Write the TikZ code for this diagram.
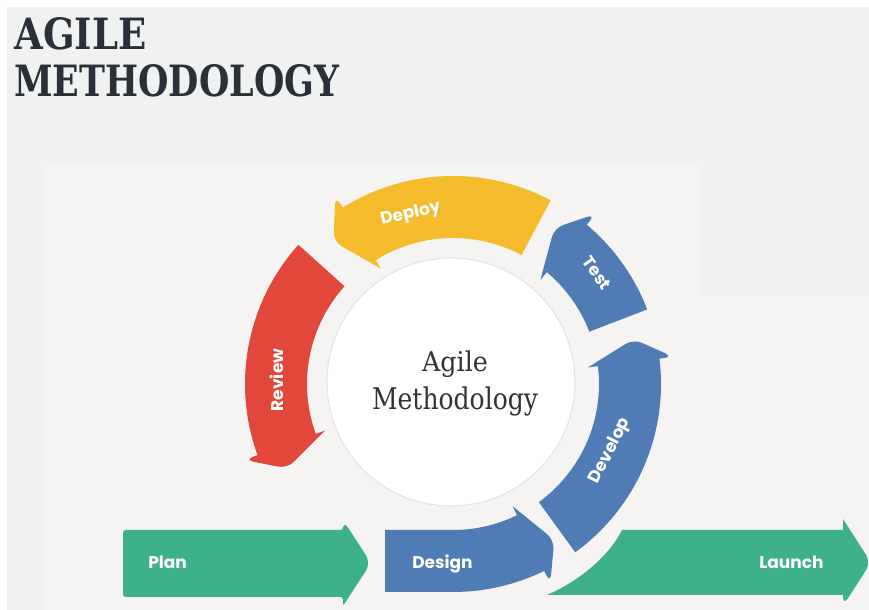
\documentclass[tikz,border=0pt]{standalone}
\usepackage{fontspec}
\setsansfont{Poppins}
\newfontfamily\slabfont{DejaVu Serif}
\usetikzlibrary{calc}
\definecolor{bggray}{HTML}{F0F1F1}
\definecolor{panelc}{HTML}{F5F4F2}
\definecolor{yellowA}{HTML}{F4BC2C}
\definecolor{redA}{HTML}{E1473B}
\definecolor{blueA}{HTML}{4F7CB5}
\definecolor{greenA}{HTML}{3EB18B}
\definecolor{titlecol}{HTML}{2C2F37}
\definecolor{centercol}{HTML}{333333}
\definecolor{circb}{HTML}{E4E4E4}
\newcommand{\ringarrow}[4]{%
  \fill[#1] (#2:146) arc[start angle=#2, end angle=#3, radius=146]
    -- (#3:136) [rounded corners=7pt] -- (#4:186) -- (#3:222) [sharp corners]
    -- (#3:208) arc[start angle=#3, end angle=#2, radius=208] -- cycle;}
\tikzset{
  lab/.style={text=white, font=\sffamily\bfseries\fontsize{12.75}{14}\selectfont, inner sep=0pt},
  flatlab/.style={lab, anchor=base west},
}
\begin{document}
\begin{tikzpicture}[x=0.75pt,y=0.75pt]
\useasboundingbox (0,0) rectangle (869,610);
\fill[white] (0,0) rectangle (869,610);
\fill[bggray] (7,0) rectangle (869,603);
\fill[panelc] (43,0) -- (43,445) -- (700,445) -- (700,315) -- (869,315) -- (869,0) -- cycle;
% title
\node[anchor=base west, inner sep=0pt, text=titlecol] (t1) at (14,560)
  {\resizebox{99pt}{24pt}{\slabfont\bfseries AGILE}};
\node[anchor=base west, inner sep=0pt, text=titlecol] (t2) at (14,513)
  {\resizebox{243.75pt}{24pt}{\slabfont\bfseries METHODOLOGY}};
% white circle
\fill[white, draw=circb, line width=0.8pt] (451,228) circle[radius=124];
\node[anchor=base, inner sep=0pt, text=centercol] (c1) at (455,238)
  {\resizebox{49.5pt}{15.5pt}{\slabfont Agile}};
\node[anchor=base, inner sep=0pt, text=centercol] (c2) at (455,200)
  {\resizebox{124.5pt}{17pt}{\slabfont Methodology}};
% ring arrows
\begin{scope}[shift={(453,226)}]
  \ringarrow{blueA}{-54}{7}{14}
  \ringarrow{blueA}{21}{50}{57}
  \ringarrow{yellowA}{62}{122}{130}
  \ringarrow{redA}{138}{200}{207}
  \fill[blueA] (-68,-146) -- (-90:146) arc[start angle=-90, end angle=-64, radius=146]
    -- (-64:136) [rounded corners=7pt] -- (-57:186) -- (-64:222) [sharp corners]
    -- (-64:208) arc[start angle=-64, end angle=-90, radius=208] -- (-68,-208) -- cycle;
  \node[lab, rotate=13] (ldeploy) at (104:175) {Deploy};
  \node[lab, rotate=-55] (ltest) at (37.6:182) {Test};
  \node[lab, rotate=90] (lreview) at (178.7:176) {Review};
  \node[lab, rotate=63] (ldevelop) at (-23:171) {Develop};
\end{scope}
% plan arrow
\fill[greenA, rounded corners=2pt] (123,13) -- (343,13) -- (343,4)
  [rounded corners=7pt] -- (371,47) -- (343,90) [rounded corners=2pt] -- (343,80) -- (123,80) -- cycle;
% launch arrow
\fill[greenA] (547,15) .. controls (577,28) and (608,52) .. (622,80) -- (843,80) -- (843,91)
  [rounded corners=7pt] -- (871,47.5) -- (843,4) [sharp corners] -- (843,15) -- cycle;
\node[flatlab] (lplan) at (148,41) {Plan};
\node[flatlab] (ldesign) at (412,41) {Design};
\node[flatlab] (llaunch) at (759,41) {Launch};
\end{tikzpicture}
\end{document}
